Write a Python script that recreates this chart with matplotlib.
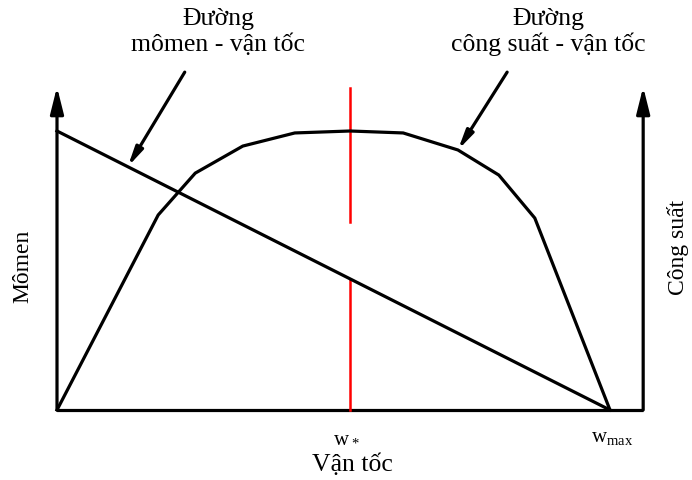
import matplotlib.pyplot as plt
import numpy as np

# --- data (speed normalised so that w_max = 1, torque starts at 1) ---
speed = np.array([0.0, 0.183, 0.25, 0.336, 0.43, 0.53, 0.626, 0.725, 0.799, 0.864, 1.0])
power = np.array([0.0, 0.699, 0.849, 0.946, 0.993, 1.0, 0.993, 0.932, 0.842, 0.688, 0.0])
torque_speed = [0.0, 1.0]
torque = [1.0, 0.0]
w_star = 0.53
w_max = 1.0
x_axis_end = 1.06
y_axis_top = 1.158

plt.rcParams['font.family'] = ['Liberation Serif', 'DejaVu Serif']
plt.rcParams['mathtext.default'] = 'regular'

fig = plt.figure(figsize=(6.92, 4.8), dpi=100)
ax = fig.add_axes([0, 0, 1, 1])
ax.set_xlim(-57 / 553, 635 / 553)
ax.set_ylim(-70 / 279, 410 / 279)
ax.axis('off')

lw = 2.3

# axes with arrows
axis_arrow = dict(arrowstyle='-|>,head_length=0.8,head_width=0.2', lw=lw,
                  color='black', mutation_scale=20, shrinkA=0, shrinkB=0)
ax.annotate('', xy=(0, y_axis_top), xytext=(0, 0), arrowprops=axis_arrow)
ax.annotate('', xy=(x_axis_end, y_axis_top), xytext=(x_axis_end, 0), arrowprops=axis_arrow)
ax.plot([0, x_axis_end], [0, 0], color='black', lw=lw, solid_capstyle='butt')

# red marker line at w* (broken above the torque line)
t_star = np.interp(w_star, torque_speed, torque)
ax.plot([w_star, w_star], [0, t_star], color='red', lw=1.8)
ax.plot([w_star, w_star], [0.674, 1.154], color='red', lw=1.8)

# curves
ax.plot(torque_speed, torque, color='black', lw=lw)
ax.plot(speed, power, color='black', lw=lw, solid_joinstyle='miter')

# pointer arrows
small_arrow = dict(arrowstyle='-|>,head_length=0.8,head_width=0.17', lw=lw,
                   color='black', mutation_scale=14, shrinkA=0, shrinkB=0)
tx = 0.128
ax.annotate('', xy=(tx, np.interp(tx, torque_speed, torque)), xytext=(0.231, 1.211),
            arrowprops=small_arrow)
ax.annotate('', xy=(speed[7], power[7]), xytext=(0.814, 1.211), arrowprops=small_arrow)

# labels
ax.text(0.291, 1.355, 'Đường\nmômen - vận tốc', ha='center', va='center',
        fontsize=18.5, linespacing=1.15)
ax.text(0.888, 1.355, 'Đường\ncông suất - vận tốc', ha='center', va='center',
        fontsize=18.5, linespacing=1.15)
ax.text(w_star - 0.006, -0.097, 'w$_*$', ha='center', va='center', fontsize=15)
ax.text(w_max + 0.003, -0.097, 'w$_{max}$', ha='center', va='center', fontsize=15)
ax.text(0.535, -0.197, 'Vận tốc', ha='center', va='center', fontsize=18.5)
ax.text(-0.061, 0.513, 'Mômen', ha='center', va='center', fontsize=17, rotation=90)
ax.text(1.123, 0.581, 'Công suất', ha='center', va='center', fontsize=17, rotation=90)

fig.savefig('out.png', dpi=100)
